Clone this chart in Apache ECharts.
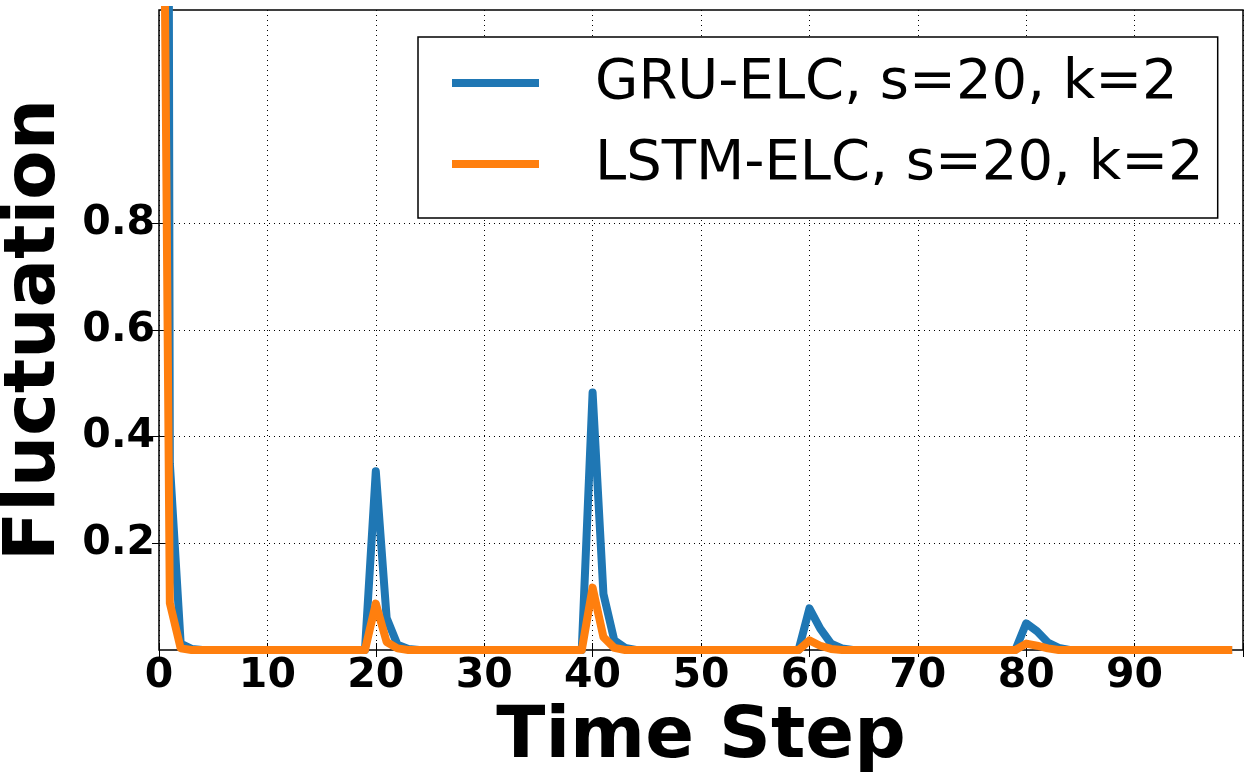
<!DOCTYPE html>
<html>
<head>
<meta charset="utf-8">
<script src="https://cdn.jsdelivr.net/npm/echarts@6/dist/echarts.min.js"></script>
<style>
  html, body { margin: 0; padding: 0; background: #fff; }
  #chart { width: 1254px; height: 781px; }
</style>
</head>
<body>
<div id="chart"></div>
<script>
// time steps 0..99
const steps = Array.from({ length: 100 }, (_, i) => i)

const gruElc = [
  10, 0.35, 0.012, 0.002, 0, 0, 0, 0, 0, 0,
  0, 0, 0, 0, 0, 0, 0, 0, 0, 0,
  0.335, 0.06, 0.01, 0.002, 0, 0, 0, 0, 0, 0,
  0, 0, 0, 0, 0, 0, 0, 0, 0, 0,
  0.483, 0.105, 0.018, 0.004, 0, 0, 0, 0, 0, 0,
  0, 0, 0, 0, 0, 0, 0, 0, 0, 0,
  0.078, 0.04, 0.012, 0.003, 0, 0, 0, 0, 0, 0,
  0, 0, 0, 0, 0, 0, 0, 0, 0, 0,
  0.05, 0.035, 0.014, 0.004, 0, 0, 0, 0, 0, 0,
  0, 0, 0, 0, 0, 0, 0, 0, 0, 0
]

const lstmElc = [
  2.6, 0.088, 0.003, 0, 0, 0, 0, 0, 0, 0,
  0, 0, 0, 0, 0, 0, 0, 0, 0, 0,
  0.087, 0.015, 0.003, 0, 0, 0, 0, 0, 0, 0,
  0, 0, 0, 0, 0, 0, 0, 0, 0, 0,
  0.117, 0.024, 0.004, 0, 0, 0, 0, 0, 0, 0,
  0, 0, 0, 0, 0, 0, 0, 0, 0, 0,
  0.018, 0.008, 0.002, 0, 0, 0, 0, 0, 0, 0,
  0, 0, 0, 0, 0, 0, 0, 0, 0, 0,
  0.012, 0.008, 0.003, 0, 0, 0, 0, 0, 0, 0,
  0, 0, 0, 0, 0, 0, 0, 0, 0, 0
]

const yTicks = [0.2, 0.4, 0.6, 0.8]
const seriesNames = ['GRU-ELC, s=20, k=2', 'LSTM-ELC, s=20, k=2']
const colors = ['#1f77b4', '#ff7f0e']

const font = 'DejaVu Sans'
const chart = echarts.init(document.getElementById('chart'))

const tickStyle = { show: true, inside: true, length: 7, lineStyle: { color: '#000', width: 1 } }
const gridLine = { show: true, lineStyle: { color: '#000', type: [1, 4], width: 1 } }

const option = {
  animation: false,
  backgroundColor: '#fff',
  grid: {
    left: 159, top: 10, right: 11, bottom: 131,
    containLabel: false,
    outerBoundsMode: 'none',
    show: true, borderColor: '#000', borderWidth: 1.5, backgroundColor: 'transparent'
  },
  legend: {
    orient: 'vertical',
    left: 418,
    top: 37,
    padding: [14, 14, 22, 34],
    itemGap: 17,
    itemWidth: 87,
    itemHeight: 8,
    icon: 'rect',
    borderColor: '#000',
    borderWidth: 1.5,
    borderRadius: 0,
    backgroundColor: '#fff',
    textStyle: {
      fontFamily: font,
      fontSize: 56,
      color: '#000',
      lineHeight: 64,
      padding: [0, 0, 0, 51]
    },
    data: seriesNames.map((n, i) => ({ name: n, itemStyle: { color: colors[i] } }))
  },
  xAxis: [{
    type: 'value',
    min: 0,
    max: 100,
    interval: 10,
    name: 'Time Step',
    nameLocation: 'middle',
    nameGap: 46,
    nameTextStyle: { fontFamily: font, fontSize: 72, fontWeight: 'bold', color: '#000' },
    axisLine: { show: false },
    axisTick: tickStyle,
    splitLine: gridLine,
    axisLabel: {
      fontFamily: font, fontSize: 41, fontWeight: 'bold', color: '#000', margin: 6,
      formatter: v => (v >= 100 ? '' : String(v))
    }
  }, {
    type: 'value',
    position: 'top',
    min: 0,
    max: 100,
    interval: 10,
    axisLine: { show: false },
    axisTick: tickStyle,
    splitLine: { show: false },
    axisLabel: { show: false }
  }],
  yAxis: [{
    type: 'value',
    min: 0,
    max: 1.2,
    name: 'Fluctuation',
    nameLocation: 'middle',
    nameGap: 80,
    nameTextStyle: { fontFamily: font, fontSize: 72, fontWeight: 'bold', color: '#000' },
    axisLine: { show: false },
    axisTick: Object.assign({ customValues: yTicks }, tickStyle),
    splitLine: gridLine,
    axisLabel: {
      customValues: yTicks,
      fontFamily: font, fontSize: 41, fontWeight: 'bold', color: '#000', margin: 4,
      formatter: v => v.toFixed(1)
    }
  }, {
    type: 'value',
    position: 'right',
    min: 0,
    max: 1.2,
    axisLine: { show: false },
    axisTick: Object.assign({ customValues: yTicks }, tickStyle),
    splitLine: { show: false },
    axisLabel: { show: false }
  }],
  series: [gruElc, lstmElc].map((vals, i) => ({
    name: seriesNames[i],
    type: 'line',
    data: steps.map((s, j) => [s, vals[j]]),
    showSymbol: false,
    clip: true,
    lineStyle: { color: colors[i], width: 8, join: 'round' },
    itemStyle: { color: colors[i] }
  }))
}

chart.setOption(option)
</script>
</body>
</html>
